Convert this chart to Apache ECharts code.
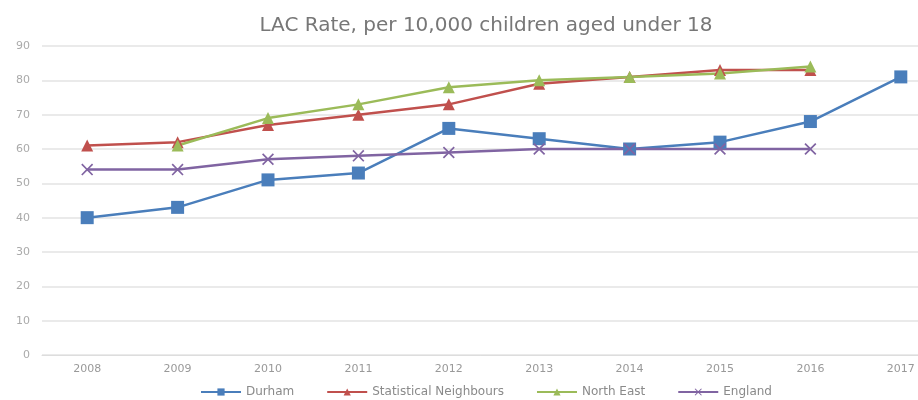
<!DOCTYPE html>
<html><head><meta charset="utf-8">
<script src="https://cdn.jsdelivr.net/npm/echarts@6/dist/echarts.min.js"></script>
<style>html,body{margin:0;padding:0;background:#fff}#c{width:918px;height:400px}</style>
</head><body><div id="c"></div>
<script>
const years = ['2008','2009','2010','2011','2012','2013','2014','2015','2016','2017'];
const durham = [40, 43, 51, 53, 66, 63, 60, 62, 68, 81];
const statNeighbours = [61, 62, 67, 70, 73, 79, 81, 83, 83, null];
const northEast = [null, 61, 69, 73, 78, 80, 81, 82, 84, null];
const england = [54, 54, 57, 58, 59, 60, 60, 60, 60, null];
const yTicks = [0, 90, 10];

const xPath = 'path://M0,1 L1,0 L5,4 L9,0 L10,1 L6,5 L10,9 L9,10 L5,6 L1,10 L0,9 L4,5 Z';
function s(name, data, color, symbol, size) {
  return { name, type: 'line', data, symbol, symbolSize: size, connectNulls: false,
    lineStyle: { color, width: 2.5 }, itemStyle: { color }, emphasis: { disabled: true } };
}
const chart = echarts.init(document.getElementById('c'));
chart.setOption({
  animation: false,
  title: { text: 'LAC Rate, per 10,000 children aged under 18', left: 481, textAlign: 'center', top: 11,
    textStyle: { fontFamily: 'DejaVu Sans', fontSize: 20, fontWeight: 'normal', color: '#777' } },
  grid: { left: 42, width: 904, top: 46, bottom: 45, outerBoundsMode: 'none', containLabel: false },
  legend: { bottom: -3, left: 195, itemWidth: 40, itemHeight: 9, itemGap: 32,
    textStyle: { fontFamily: 'DejaVu Sans', fontSize: 12, color: '#8a8a8a' },
    data: ['Durham', 'Statistical Neighbours', 'North East', 'England'] },
  xAxis: { type: 'category', data: years, boundaryGap: true,
    axisLine: { show: true, lineStyle: { color: '#ddd' } }, axisTick: { show: false },
    axisLabel: { color: '#999', fontSize: 11, fontFamily: 'DejaVu Sans', margin: 9 } },
  yAxis: { type: 'value', min: yTicks[0], max: yTicks[1], interval: yTicks[2],
    axisLabel: { color: '#aaa', fontSize: 11, fontFamily: 'DejaVu Sans', margin: 12 },
    splitLine: { lineStyle: { color: '#e3e3e3', width: 1.5 } }, axisLine: { show: false }, axisTick: { show: false } },
  series: [
    s('Durham', durham, '#4A7EBB', 'rect', 13),
    s('Statistical Neighbours', statNeighbours, '#C0504D', 'triangle', 12),
    s('North East', northEast, '#9BBB59', 'triangle', 12),
    s('England', england, '#8064A2', xPath, 12)
  ]
});
</script></body></html>
